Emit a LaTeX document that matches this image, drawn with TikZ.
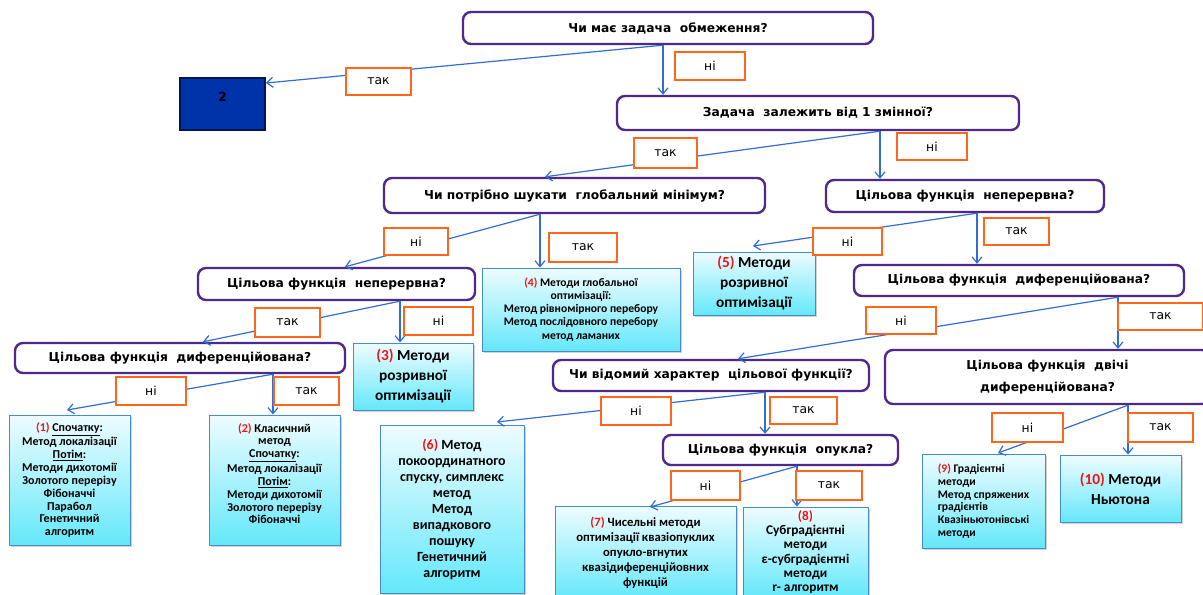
\documentclass[tikz,border=0pt]{standalone}
\usepackage{fontspec}
\setmainfont{DejaVu Sans}
\newfontfamily\carl{Carlito}
\usetikzlibrary{arrows.meta,shadows,calc}

\definecolor{decc}{RGB}{78,40,140}
\definecolor{labc}{RGB}{255,102,26}
\definecolor{connc}{RGB}{50,110,210}
\definecolor{methc}{RGB}{70,140,200}
\definecolor{methtop}{RGB}{238,252,255}
\definecolor{methbot}{RGB}{100,232,250}
\definecolor{boxblue}{RGB}{0,51,170}
\definecolor{boxedge}{RGB}{0,20,80}
\definecolor{numc}{RGB}{240,20,20}

\newcommand{\nr}[1]{\textcolor{numc}{#1}}

\tikzset{
  sz/.style 2 args={minimum width=#1*0.75pt, minimum height=#2*0.75pt},
  dec/.style={draw=decc, line width=1.8pt, rounded corners=6pt, fill=white,
    align=center, inner sep=0pt, font=\bfseries\fontsize{9.2}{13}\selectfont},
  lab/.style={draw=labc, line width=1.5pt, fill=white, inner sep=0pt,
    font=\fontsize{9.3}{11}\selectfont},
  meth/.style={draw=methc, line width=0.7pt, top color=methtop, bottom color=methbot,
    align=center, inner sep=0pt,
    drop shadow={shadow xshift=1.6pt, shadow yshift=-1.6pt, opacity=0.35}},
  msmall/.style={font=\carl\bfseries\fontsize{9}{9.7}\selectfont},
  mbig/.style={font=\carl\bfseries\fontsize{11.5}{15}\selectfont},
  conn/.style={draw=connc, line width=0.9pt, -{Straight Barb[length=4.5pt,width=7.5pt]}}
}

\begin{document}
\begin{tikzpicture}[x=0.75pt,y=-0.75pt]
\useasboundingbox (0,0) rectangle (1203,595);
\fill[white] (0,0) rectangle (1203,595);
\clip (0,0) rectangle (1203,595);

% decision boxes
\node[dec, sz={410}{32}] (D1) at (668,28) {Чи має задача\ \ обмеження?};
\node[dec, sz={402}{34}] (D2) at (818,113) {Задача\ \ залежить від 1 змінної?};
\node[dec, sz={381}{35}] (D3) at (574.5,195.5) {Чи потрібно шукати\ \ глобальний мінімум?};
\node[dec, sz={278}{32}] (D4) at (965,196) {Цільова функція\ \ неперервна?};
\node[dec, sz={277}{32}] (D5) at (336.5,284) {Цільова функція\ \ неперервна?};
\node[dec, sz={330}{31}] (D6) at (1019,280.5) {Цільова функція\ \ диференційована?};
\node[dec, sz={330}{30}] (D7) at (180,358) {Цільова функція\ \ диференційована?};
\node[dec, sz={316}{31}] (D8) at (711,375.5) {Чи відомий характер\ \ цільової функції?};
\node[dec, sz={325}{54}, font=\bfseries\fontsize{9.2}{16}\selectfont] (D9) at (1047.5,377) {Цільова функція\ \ двічі\\диференційована?};
\node[dec, sz={235}{30}] (D10) at (780.5,450) {Цільова функція\ \ опукла?};

% box 2
\node[draw=boxedge, line width=1.5pt, fill=boxblue, sz={85}{52}, inner sep=0pt,
  text height=17.75pt, text depth=21.25pt, font=\bfseries\fontsize{9.5}{11}\selectfont] (B2) at (222.5,104) {2};

% method boxes
\node[meth, msmall, sz={121}{130}] (M1) at (69.5,480)
  {\nr{(1)} \underline{Спочатку}:\\Метод локалізації\\\underline{Потім}:\\Методи дихотомії\\Золотого перерізу\\Фібоначчі\\Парабол\\Генетичний\\алгоритм};
\node[meth, msmall, sz={131}{130}] (M2) at (274.5,480)
  {\nr{(2)} Класичний\\метод\\\underline{Спочатку}:\\Метод локалізації\\\underline{Потім}:\\Методи дихотомії\\Золотого перерізу\\Фібоначчі\\~};
\node[meth, mbig, sz={120}{67}] (M3) at (413,376.5)
  {\nr{(3)} Методи\\розривної\\оптимізації};
\node[meth, msmall, font=\carl\bfseries\fontsize{8.7}{9.8}\selectfont, sz={198}{83}] (M4) at (581,309.5)
  {\nr{(4)} Методи глобальної\\оптимізації:\\Метод рівномірного перебору\\Метод послідовного перебору\\метод ламаних};
\node[meth, mbig, sz={122}{63}] (M5) at (754,283.5)
  {\nr{(5)} Методи\\розривної\\оптимізації};
\node[meth, font=\carl\bfseries\fontsize{10.5}{12}\selectfont, sz={144}{168}] (M6) at (452,509)
  {\nr{(6)} Метод\\покоординатного\\спуску, симплекс\\метод\\Метод\\випадкового\\пошуку\\Генетичний\\алгоритм};
\node[meth, font=\carl\bfseries\fontsize{9.5}{11.3}\selectfont, sz={181}{93}] (M7) at (645.5,552.5)
  {\nr{(7)} Чисельні методи\\оптимізації квазіопуклих\\опукло-вгнутих\\квазідиференційовних\\функцій};
\node[meth, font=\carl\bfseries\fontsize{10}{10.7}\selectfont, sz={125}{90}] (M8) at (805.5,552)
  {\nr{(8)}\\Субградієнтні\\методи\\ε-субградієнтні\\методи\\r- алгоритм};
\node[meth, msmall, align=left, font=\carl\bfseries\fontsize{8.7}{9.5}\selectfont, sz={123}{94}] (M9) at (983.5,501)
  {\nr{(9)} Градієнтні\\методи\\Метод спряжених\\градієнтів\\Квазіньютонівські\\методи};
\node[meth, mbig, sz={121}{67}] (M10) at (1120.5,488.5)
  {\nr{(10)} Методи\\Ньютона};

% connectors
\draw[conn] (D1.south -| 663,0) -- (B2.east |- 0,83);
\draw[conn] (D1.south -| 663,0) -- (D2.north -| 663,0);
\draw[conn] (D2.south -| 880,0) -- (D3.north -| 545,0);
\draw[conn] (D2.south -| 880,0) -- (D4.north -| 880,0);
\draw[conn] (D3.south -| 540,0) -- (D5.north -| 345,0);
\draw[conn] (D3.south -| 540,0) -- (M4.north -| 540,0);
\draw[conn] (D4.south -| 977,0) -- (753,246);
\draw[conn] (D4.south -| 977,0) -- (D6.north -| 977,0);
\draw[conn] (D5.south -| 400,0) -- (D7.north -| 203,0);
\draw[conn] (D5.south -| 400,0) -- (M3.north -| 400,0);
\draw[conn] (D7.south -| 273,0) -- (67,410);
\draw[conn] (D7.south -| 273,0) -- (M2.north -| 273,0);
\draw[conn] (D6.south -| 1118,0) -- (D8.north -| 738,0);
\draw[conn] (D6.south -| 1118,0) -- (D9.north -| 1118,0);
\draw[conn] (D8.south -| 765,0) -- (497,422);
\draw[conn] (D8.south -| 765,0) -- (D10.north -| 765,0);
\draw[conn] (D9.south -| 1128,0) -- (998,453);
\draw[conn] (D9.south -| 1128,0) -- (M10.north -| 1128,0);
\draw[conn] (D10.south -| 797,0) -- (650,507);
\draw[conn] (D10.south -| 797,0) -- (M8.north -| 797,0);

% labels
\node[lab, sz={65}{27}] (L1) at (378.5,81.5) {так};
\node[lab, sz={70}{28}] (L2) at (710,66) {ні};
\node[lab, sz={63}{30}] (L3) at (665.5,153) {так};
\node[lab, sz={70}{27}] (L4) at (932,146.5) {ні};
\node[lab, sz={64}{27}] (L5) at (416,241.5) {ні};
\node[lab, sz={68}{29}] (L6) at (583,247.5) {так};
\node[lab, sz={69}{27}] (L7) at (847.5,241.5) {ні};
\node[lab, sz={65}{27}] (L8) at (1016.5,231.5) {так};
\node[lab, sz={65}{29}] (L9) at (287.5,322.5) {так};
\node[lab, sz={69}{28}] (L10) at (438.5,321) {ні};
\node[lab, sz={70}{28}] (L11) at (151,391) {ні};
\node[lab, sz={65}{28}] (L12) at (306.5,391) {так};
\node[lab, sz={70}{27}] (L13) at (901,320.5) {ні};
\node[lab, sz={85}{27}] (L14) at (1160.5,316.5) {так};
\node[lab, sz={70}{28}] (L15) at (636,411) {ні};
\node[lab, sz={67}{27}] (L16) at (803.5,410.5) {так};
\node[lab, sz={71}{29}] (L17) at (1027.5,427.5) {ні};
\node[lab, sz={65}{29}] (L18) at (1160.5,427.5) {так};
\node[lab, sz={69}{29}] (L19) at (705.5,485.5) {ні};
\node[lab, sz={66}{29}] (L20) at (829,485.5) {так};
\end{tikzpicture}
\end{document}
